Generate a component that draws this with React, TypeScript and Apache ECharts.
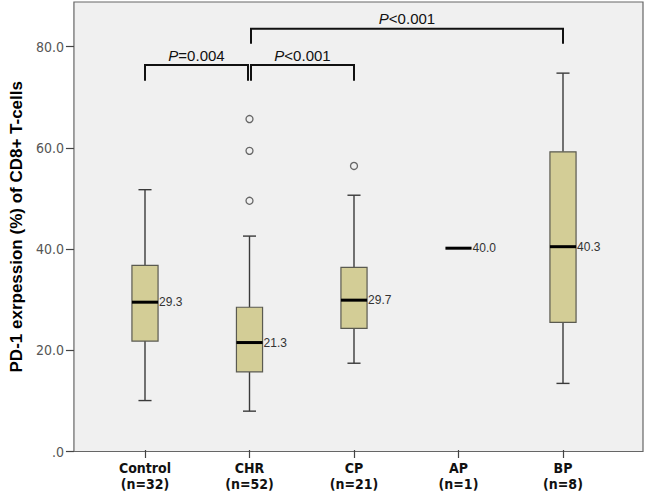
import React, { useEffect, useRef } from 'react';
import * as echarts from 'echarts';

const categories = ['Control\n(n=32)', 'CHR\n(n=52)', 'CP\n(n=21)', 'AP\n(n=1)', 'BP\n(n=8)'];
const whiskerLow = [9.8, 7.7, 17.2, 40.0, 13.2];
const q1 = [21.6, 15.5, 24.1, 40.0, 25.3];
const median = [29.3, 21.3, 29.7, 40.0, 40.3];
const q3 = [36.6, 28.3, 36.2, 40.0, 59.1];
const whiskerHigh = [51.6, 42.4, 50.5, 40.0, 74.7];
const outliers: [number, number][] = [
  [1, 65.6],
  [1, 59.3],
  [1, 49.4],
  [2, 56.3],
];
const bracketFrom = [0, 1, 1];
const bracketTo = [1, 2, 4];
const bracketTop = [76.3, 76.3, 83.5];
const bracketLeg = [73.2, 73.2, 80.5];
const bracketLabel = ['=0.004', '<0.001', '<0.001'];
const yTicks = [0, 20, 40, 60, 80];
const yMax = 88.8;
const yTitle = 'PD-1 exrpession (%) of CD8+ T-cells';

const FONT = '"Liberation Sans", Arial, sans-serif';
const NARROW = '"DejaVu Sans Condensed", "Liberation Sans Narrow", "Liberation Sans", sans-serif';

export default function App() {
  const ref = useRef<HTMLDivElement>(null);
  useEffect(() => {
    if (!ref.current) return;
    const chart = echarts.init(ref.current, undefined, { renderer: 'svg' });
    const boxData = categories.map((_, i) => [i, whiskerLow[i], q1[i], median[i], q3[i], whiskerHigh[i]]);
    const bracketData = bracketFrom.map((f, i) => [f, bracketTo[i], bracketTop[i], bracketLeg[i], i]);
    chart.setOption({
      animation: false,
      backgroundColor: '#ffffff',
      grid: [
        { left: 64, right: 3, top: 2, bottom: 40.5, show: true, backgroundColor: '#f0f0f0', borderColor: '#666', borderWidth: 1.2 },
        { left: 92.75, right: 30.75, top: 2, bottom: 40.5 },
      ],
      xAxis: [
        { gridIndex: 0, type: 'value', min: 0, max: 1, show: false },
        {
          gridIndex: 1,
          type: 'category',
          data: categories,
          axisLine: { show: false },
          axisTick: { show: true, alignWithLabel: true, length: 8, lineStyle: { color: '#444', width: 1.2 } },
          axisLabel: { fontFamily: NARROW, fontWeight: 'bold', fontSize: 14, color: '#111', margin: 10, lineHeight: 16 },
          splitLine: { show: false },
        },
      ],
      yAxis: [
        {
          gridIndex: 0,
          type: 'value',
          min: 0,
          max: yMax,
          axisLine: { show: false },
          axisTick: { show: true, customValues: yTicks, length: 8, lineStyle: { color: '#444', width: 1.2 } },
          axisLabel: {
            customValues: yTicks,
            formatter: (v: number) => (v === 0 ? '.0' : v.toFixed(1)),
            fontFamily: NARROW,
            fontSize: 14,
            color: '#555',
            margin: 10,
          },
          splitLine: { show: false },
          name: yTitle,
          nameLocation: 'middle',
          nameGap: 42,
          nameTextStyle: { fontFamily: FONT, fontWeight: 'bold', fontSize: 17, color: '#000' },
        },
        { gridIndex: 1, type: 'value', min: 0, max: yMax, show: false },
      ],
      series: [
        {
          type: 'custom',
          xAxisIndex: 1,
          yAxisIndex: 1,
          data: boxData,
          renderItem: (params: any, api: any) => {
            const i = api.value(0);
            const x = api.coord([i, 0])[0];
            const bw = api.size([1, 0])[0] * 0.25;
            const yLow = api.coord([i, api.value(1)])[1];
            const yQ1 = api.coord([i, api.value(2)])[1];
            const yMed = api.coord([i, api.value(3)])[1];
            const yQ3 = api.coord([i, api.value(4)])[1];
            const yHigh = api.coord([i, api.value(5)])[1];
            const children: any[] = [];
            const wStyle = { stroke: '#3a3a3a', lineWidth: 1.4 };
            if (api.value(5) > api.value(1)) {
              children.push({ type: 'line', shape: { x1: x, y1: yLow, x2: x, y2: yQ1 }, style: wStyle });
              children.push({ type: 'line', shape: { x1: x, y1: yQ3, x2: x, y2: yHigh }, style: wStyle });
              children.push({ type: 'line', shape: { x1: x - bw / 4, y1: yLow, x2: x + bw / 4, y2: yLow }, style: wStyle });
              children.push({ type: 'line', shape: { x1: x - bw / 4, y1: yHigh, x2: x + bw / 4, y2: yHigh }, style: wStyle });
              children.push({
                type: 'rect',
                shape: { x: x - bw / 2, y: yQ3, width: bw, height: yQ1 - yQ3 },
                style: { fill: '#d3cd96', stroke: '#5a5a50', lineWidth: 1.2 },
              });
            }
            children.push({ type: 'line', shape: { x1: x - bw / 2, y1: yMed, x2: x + bw / 2, y2: yMed }, style: { stroke: '#000', lineWidth: 3 } });
            children.push({
              type: 'text',
              x: x + bw / 2 + 1,
              y: yMed,
              style: { text: api.value(3).toFixed(1), fontFamily: FONT, fontSize: 12, fill: '#333', align: 'left', verticalAlign: 'middle' },
            });
            return { type: 'group', children };
          },
        },
        {
          type: 'scatter',
          xAxisIndex: 1,
          yAxisIndex: 1,
          data: outliers,
          symbol: 'circle',
          symbolSize: 7,
          itemStyle: { color: 'rgba(0,0,0,0)', borderColor: '#444', borderWidth: 1.3 },
        },
        {
          type: 'custom',
          xAxisIndex: 1,
          yAxisIndex: 1,
          data: bracketData,
          renderItem: (params: any, api: any) => {
            const f = api.value(0);
            const t = api.value(1);
            const k = api.value(4);
            const x1 = api.coord([f, 0])[0] + (f === 1 ? 1.5 : 0);
            const x2 = api.coord([t, 0])[0] + (t === 1 ? -1.5 : 0);
            const yTop = api.coord([f, api.value(2)])[1];
            const yLeg = api.coord([f, api.value(3)])[1];
            return {
              type: 'group',
              children: [
                {
                  type: 'polyline',
                  shape: { points: [[x1, yLeg], [x1, yTop], [x2, yTop], [x2, yLeg]] },
                  style: { stroke: '#111', lineWidth: 2, fill: 'none' },
                },
                {
                  type: 'text',
                  x: (x1 + x2) / 2,
                  y: yTop - 10,
                  style: {
                    text: '{i|P}{n|' + bracketLabel[k] + '}',
                    align: 'center',
                    verticalAlign: 'middle',
                    rich: {
                      i: { fontFamily: FONT, fontSize: 15, fontStyle: 'italic', fill: '#111' },
                      n: { fontFamily: FONT, fontSize: 15, fill: '#111' },
                    },
                  },
                },
              ],
            };
          },
        },
      ],
    });
    return () => chart.dispose();
  }, []);
  return <div ref={ref} style={{ position: 'fixed', left: 0, top: 0, width: 646, height: 492 }} />;
}
